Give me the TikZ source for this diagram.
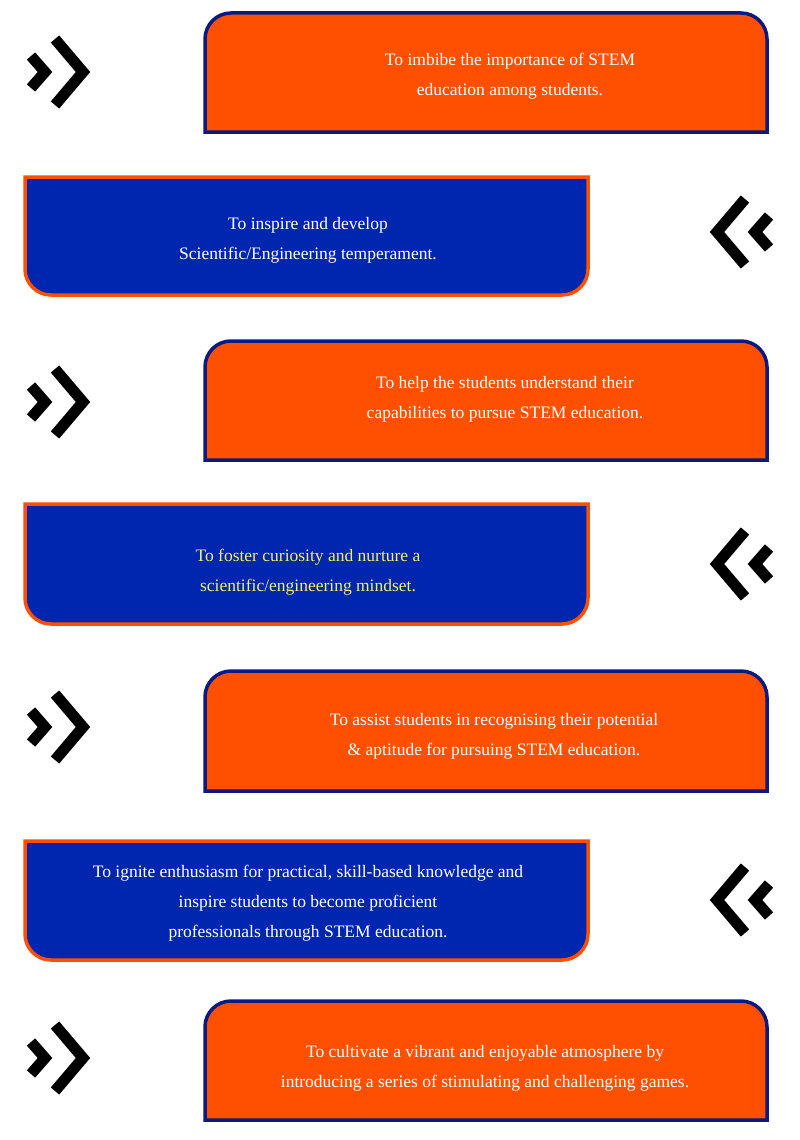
\documentclass[tikz,border=0pt]{standalone}
\usepackage{fontspec}
\setmainfont{Liberation Serif}
\definecolor{boxorange}{HTML}{FF4F00}
\definecolor{boxblue}{HTML}{0026B0}
\definecolor{boxnavy}{HTML}{0A1A80}
\definecolor{textyellow}{HTML}{F4F060}
\tikzset{
  orangebox/.style={fill=boxorange, draw=boxnavy, line width=3.5pt},
  bluebox/.style={fill=boxblue, draw=boxorange, line width=3.5pt},
  boxtext/.style={align=center, font=\fontsize{17.5}{30}\selectfont, text=white},
  chevron/.style={draw=black, line width=11pt, line join=miter}
}
\begin{document}
\begin{tikzpicture}[x=1pt, y=-1pt]
\useasboundingbox (0,0) rectangle (800,1140);
% orange boxes
\foreach \ya/\yb in {13/132, 341/460, 671/791, 1001/1120}{
  \draw[orangebox] (205,\yb) -- (205,\ya+26) [rounded corners=26pt] -- (205,\ya) -- (767,\ya) [sharp corners] -- (767,\ya+26) -- (767,\yb) -- cycle;
}
% blue boxes
\foreach \ya/\yb in {177/295, 504/624, 841/960}{
  \draw[bluebox] (25,\ya) -- (588,\ya) -- (588,\yb-26) [rounded corners=26pt] -- (588,\yb) -- (25,\yb) [sharp corners] -- (25,\yb-26) -- cycle;
}
% chevrons
\foreach \yc in {72, 402, 727, 1058}{
  \draw[chevron] (31,\yc-16) -- (45,\yc) -- (31,\yc+16);
  \draw[chevron] (55,\yc-33) -- (83,\yc) -- (55,\yc+33);
}
\foreach \yc in {232, 564, 900}{
  \draw[chevron] (769,\yc-16) -- (755,\yc) -- (769,\yc+16);
  \draw[chevron] (745,\yc-33) -- (717,\yc) -- (745,\yc+33);
}
% texts
\node[boxtext] (goala) at (510,76) {To imbibe the importance of STEM\\education among students.};
\node[boxtext] (goalb) at (308,240) {To inspire and develop\\Scientific/Engineering temperament.};
\node[boxtext] (goalc) at (505,399) {To help the students understand their\\capabilities to pursue STEM education.};
\node[boxtext, text=textyellow] (goald) at (308,572) {To foster curiosity and  nurture a\\scientific/engineering mindset.};
\node[boxtext] (goale) at (494,736) {To assist students in recognising their  potential\\\& aptitude for pursuing STEM education.};
\node[boxtext] (goalf) at (308,903) {To ignite enthusiasm for practical, skill-based knowledge and\\inspire students to  become proficient\\professionals through STEM education.};
\node[boxtext] (goalg) at (485,1068) {To cultivate a vibrant and enjoyable atmosphere  by\\introducing a series of stimulating and challenging games.};
\end{tikzpicture}
\end{document}
